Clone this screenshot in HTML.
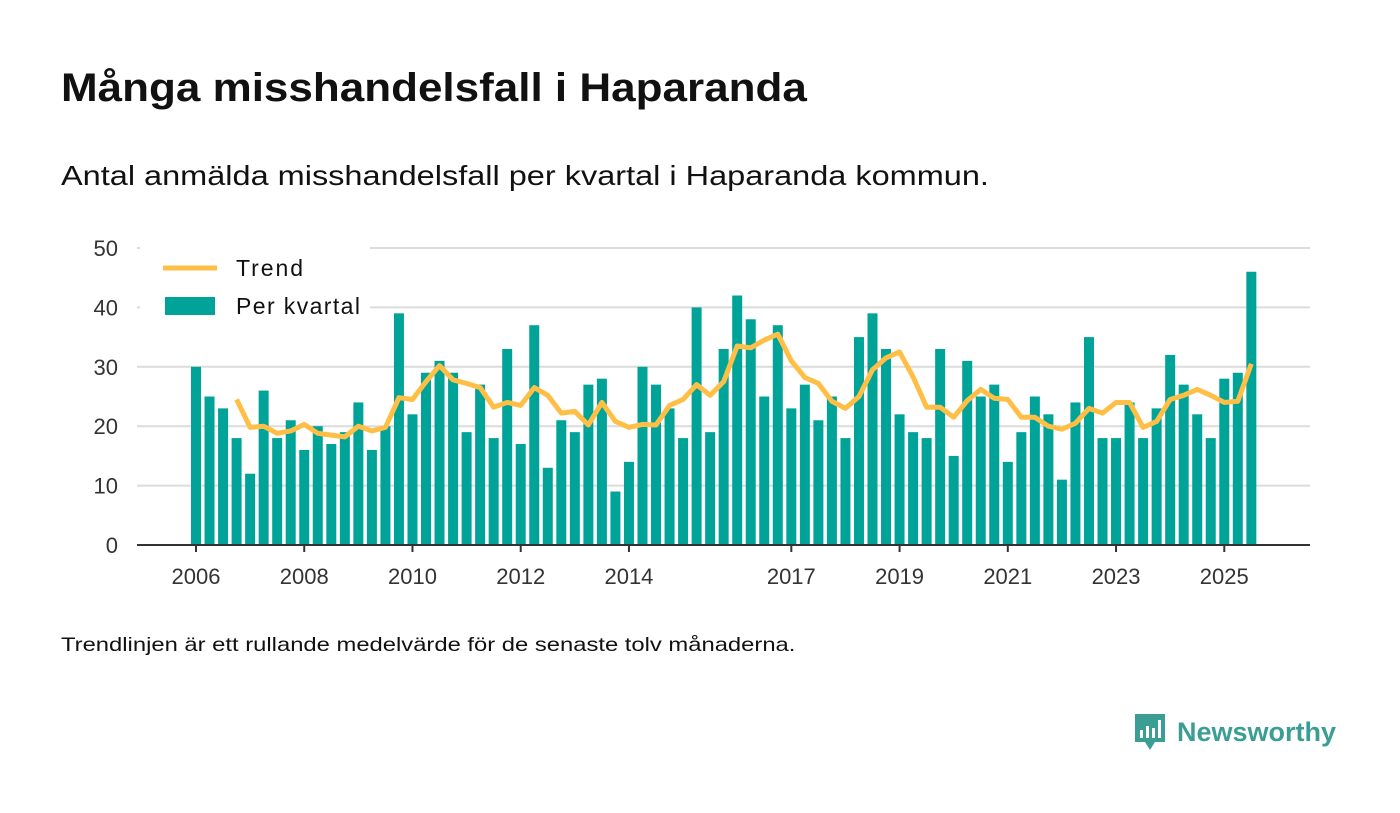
<!DOCTYPE html>
<html><head><meta charset="utf-8"><style>
body{margin:0;width:1400px;height:813px;background:#fff;font-family:"Liberation Sans",sans-serif;color:#111;position:relative;overflow:hidden}
.t{position:absolute;left:61px;top:66px;font-size:40px;font-weight:bold;color:#111;transform:scaleX(1.10);transform-origin:0 0;white-space:nowrap}
.s{position:absolute;left:61px;top:160px;font-size:28px;color:#111;transform:scaleX(1.16);transform-origin:0 0;white-space:nowrap}
.f{position:absolute;left:61px;top:634px;font-size:19.5px;color:#111;transform:scaleX(1.22);transform-origin:0 0;white-space:nowrap}
.logo{position:absolute;left:1133px;top:712px;display:flex;align-items:center}
.logo span{font-size:27px;font-weight:bold;color:#3b9e95;margin-left:10px}
</style></head><body>
<div class="t">Många misshandelsfall i Haparanda</div>
<div class="s">Antal anmälda misshandelsfall per kvartal i Haparanda kommun.</div>
<svg id="c" width="1400" height="813" style="position:absolute;left:0;top:0"></svg>
<div class="f">Trendlinjen är ett rullande medelvärde för de senaste tolv månaderna.</div>
<div class="logo">
<svg width="34" height="40" viewBox="0 0 34 40"><path d="M2 2h30v28H22l-5 8-5-8H2z" fill="#3b9e95"/><rect x="7" y="18" width="3" height="8" fill="#fff"/><rect x="13" y="14" width="3" height="12" fill="#fff"/><rect x="19" y="16" width="3" height="10" fill="#fff"/><rect x="25" y="8" width="3" height="18" fill="#fff"/></svg>
<span>Newsworthy</span></div>
<script>
const values=[30,25,23,18, 12,26,18,21, 16,20,17,19, 24,16,20,39, 22,29,31,29, 19,27,18,33, 17,37,13,21, 19,27,28,9, 14,30,27,23, 18,40,19,33, 42,38,25,37, 23,27,21,25, 18,35,39,33, 22,19,18,33, 15,31,25,27, 14,19,25,22, 11,24,35,18, 18,24,18,23, 32,27,22,18, 28,29,46];
const trend=[24.5,19.8,20,18.8,19.2,20.3,18.8,18.5,18.2,20,19.2,19.8,24.8,24.5,27.5,30.2,27.8,27.2,26.5,23.2,24,23.5,26.5,25.2,22.2,22.5,20.2,24,20.8,19.8,20.3,20.2,23.5,24.5,27,25.2,27.5,33.5,33.2,34.5,35.5,31,28.2,27.2,24.2,23,25,29.5,31.5,32.5,28.3,23.2,23.2,21.5,24.3,26.2,24.7,24.5,21.5,21.5,20,19.5,20.5,23,22.2,24,24,19.8,20.8,24.5,25.2,26.2,25.2,24,24.2,30.5];
const trendStart=3;
const yTicks=[0,10,20,30,40,50];
const xYears=[2006,2008,2010,2012,2014,2017,2019,2021,2023,2025];
const NS="http://www.w3.org/2000/svg",svg=document.getElementById('c');
const x=i=>196+i*13.53, y=v=>545-v*5.94;
function mk(t,a,p){const e=document.createElementNS(NS,t);for(const k in a)e.setAttribute(k,a[k]);(p||svg).appendChild(e);return e;}
yTicks.forEach(v=>{
 if(v>0){const g=mk('line',{x1:137,x2:1310,y1:y(v),y2:y(v),stroke:'#dcdcdc','stroke-width':2});
 
 }
 const t=mk('text',{x:118,y:y(v)+8,'text-anchor':'end','font-size':22,fill:'#333'});t.textContent=v;
 
 
});
values.forEach((v,i)=>{const r=mk('rect',{x:x(i)-5,y:y(v),width:10,height:545-y(v),fill:'#00a398'});
 
 });
const pts=trend.map((v,i)=>x(i+trendStart)+','+y(v)).join(' ');
const pl=mk('polyline',{points:pts,fill:'none',stroke:'#ffbf47','stroke-width':5,'stroke-linejoin':'round'});


const ax=mk('line',{x1:137,x2:1310,y1:545,y2:545,stroke:'#333','stroke-width':2});


xYears.forEach(yr=>{const i=(yr-2006)*4;
 mk('line',{x1:x(i),x2:x(i),y1:545,y2:552,stroke:'#333','stroke-width':2});
 const t=mk('text',{x:x(i),y:584,'text-anchor':'middle','font-size':22,fill:'#333'});t.textContent=yr;
 
 });
const lg=mk('g',{});


mk('rect',{x:140,y:246,width:230,height:76,fill:'#fff'},lg);
mk('line',{x1:163,x2:217,y1:268,y2:268,stroke:'#ffbf47','stroke-width':5},lg);
mk('rect',{x:165,y:297,width:50,height:18,fill:'#00a398'},lg);
const l1=mk('text',{x:236,y:276,'font-size':23,fill:'#111',textLength:67},lg);l1.textContent='Trend';


const l2=mk('text',{x:236,y:314,'font-size':23,fill:'#111',textLength:124},lg);l2.textContent='Per kvartal';


</script>
</body></html>
